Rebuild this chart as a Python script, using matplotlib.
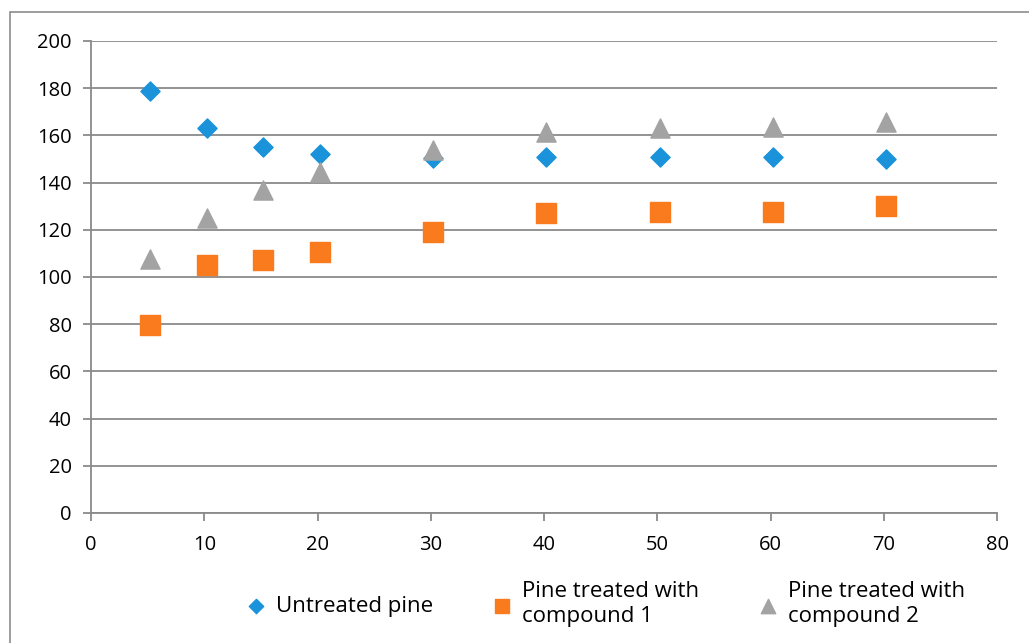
import matplotlib.pyplot as plt
from matplotlib.patches import Rectangle

# data
x_vals = [5.2, 10.2, 15.2, 20.2, 30.2, 40.2, 50.2, 60.2, 70.2]
untreated = [179, 163, 155, 152, 150.5, 151, 151, 151, 150]
compound1 = [79.5, 105, 107, 110.5, 119, 127, 127.5, 127.5, 130]
compound2 = [107.5, 125, 137, 144.5, 154, 161.5, 163, 163.5, 165.5]
labels = ['Untreated pine', 'Pine treated with\ncompound 1', 'Pine treated with\ncompound 2']

plt.rcParams['font.family'] = ['Open Sans', 'DejaVu Sans']

fig = plt.figure(figsize=(10.29, 6.43), dpi=100)
fig.patches.append(Rectangle((10/1029, -0.1), 1.1, 1 - 12/643 + 0.1,
                             transform=fig.transFigure, fill=False,
                             edgecolor='#8c8c8c', linewidth=1.2))

ax = fig.add_axes([91/1029, 1 - 513/643, (997-91)/1029, (513-41)/643])
ax.scatter(x_vals, untreated, marker='D', s=95, color='#1a93da', label=labels[0], zorder=3)
ax.scatter(x_vals, compound1, marker='s', s=200, color='#fa7a1e', label=labels[1], zorder=3)
ax.scatter(x_vals, compound2, marker='^', s=190, color='#a3a3a3', label=labels[2], zorder=3)

ax.set_xlim(0, 80)
ax.set_ylim(0, 200)
ax.set_xticks(range(0, 81, 10))
ax.set_yticks(range(0, 201, 20))
ax.grid(axis='y', color='#8a8a8a', linewidth=1.3)
ax.set_axisbelow(True)
for s in ['top', 'right']:
    ax.spines[s].set_visible(False)
for s in ['left', 'bottom']:
    ax.spines[s].set_color('#8a8a8a')
    ax.spines[s].set_linewidth(1.3)
ax.tick_params(direction='out', length=6, width=1.3, color='#8a8a8a',
               labelsize=14.5, labelcolor='black')
ax.tick_params(axis='y', pad=8)
ax.tick_params(axis='x', pad=10)

leg = fig.legend(loc='center', bbox_to_anchor=(605/1029, 1 - 604/643), ncol=3, frameon=False,
                 fontsize=16, markerscale=0.75, handletextpad=0.4, columnspacing=2.6,
                 handlelength=1)
for t in leg.get_texts():
    t.set_linespacing(1.3)

fig.savefig('out.png', dpi=100)
